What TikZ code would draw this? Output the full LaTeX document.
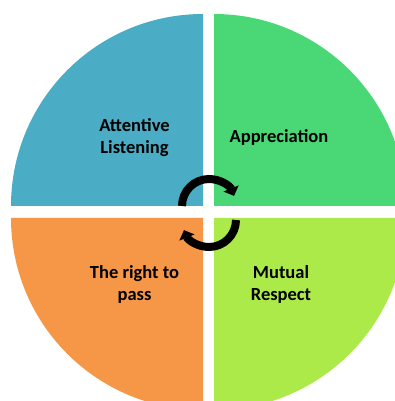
\documentclass[tikz,border=0pt]{standalone}
\usepackage{fontspec}
\setmainfont{Carlito}
\usepackage{xcolor}
\usepackage{tikz}
\usetikzlibrary{arrows.meta, positioning}
\definecolor{listenblue}{HTML}{4AACC5}
\definecolor{apprgreen}{HTML}{4AD775}
\definecolor{passorange}{HTML}{F69647}
\definecolor{respectlime}{HTML}{ACEA4A}
\tikzstyle{quarter} = [draw=none]
\tikzstyle{quadtext} = [align=center, text=black, font=\fontsize{18.5}{22}\selectfont\bfseries]
\tikzstyle{cyclearrow} = [line width=8pt, -{Triangle[length=8pt, width=16pt]}]

\begin{document}
\begin{tikzpicture}[x=1pt, y=1pt]
                  \useasboundingbox (0,0) rectangle (395,401);
                  \begin{scope}
                      \clip (0,0) rectangle (395,401);
                      \fill [quarter, listenblue] (203,195) -- ++(-192,0) arc (180:90:192) -- cycle;
                      \fill [quarter, apprgreen] (214,195) -- ++(0,192) arc (90:0:192) -- cycle;
                      \fill [quarter, passorange] (203,183) -- ++(0,-192) arc (270:180:192) -- cycle;
                      \fill [quarter, respectlime] (214,183) -- ++(192,0) arc (0:-90:192) -- cycle;
                  \end{scope}

                  \node (listening) [quadtext] at (134.5,263) {Attentive\\Listening};
                  \node (appreciation) [quadtext] at (279,264) {Appreciation};
                  \node (pass) [quadtext] at (134.5,117) {The right to\\pass};
                  \node (respect) [quadtext] at (281,117) {Mutual\\Respect};

                  \draw [cyclearrow] (182,195) arc (180:22:27);
                  \draw [cyclearrow] (236,181) arc (0:-158:27);
              \end{tikzpicture}
\end{document}
